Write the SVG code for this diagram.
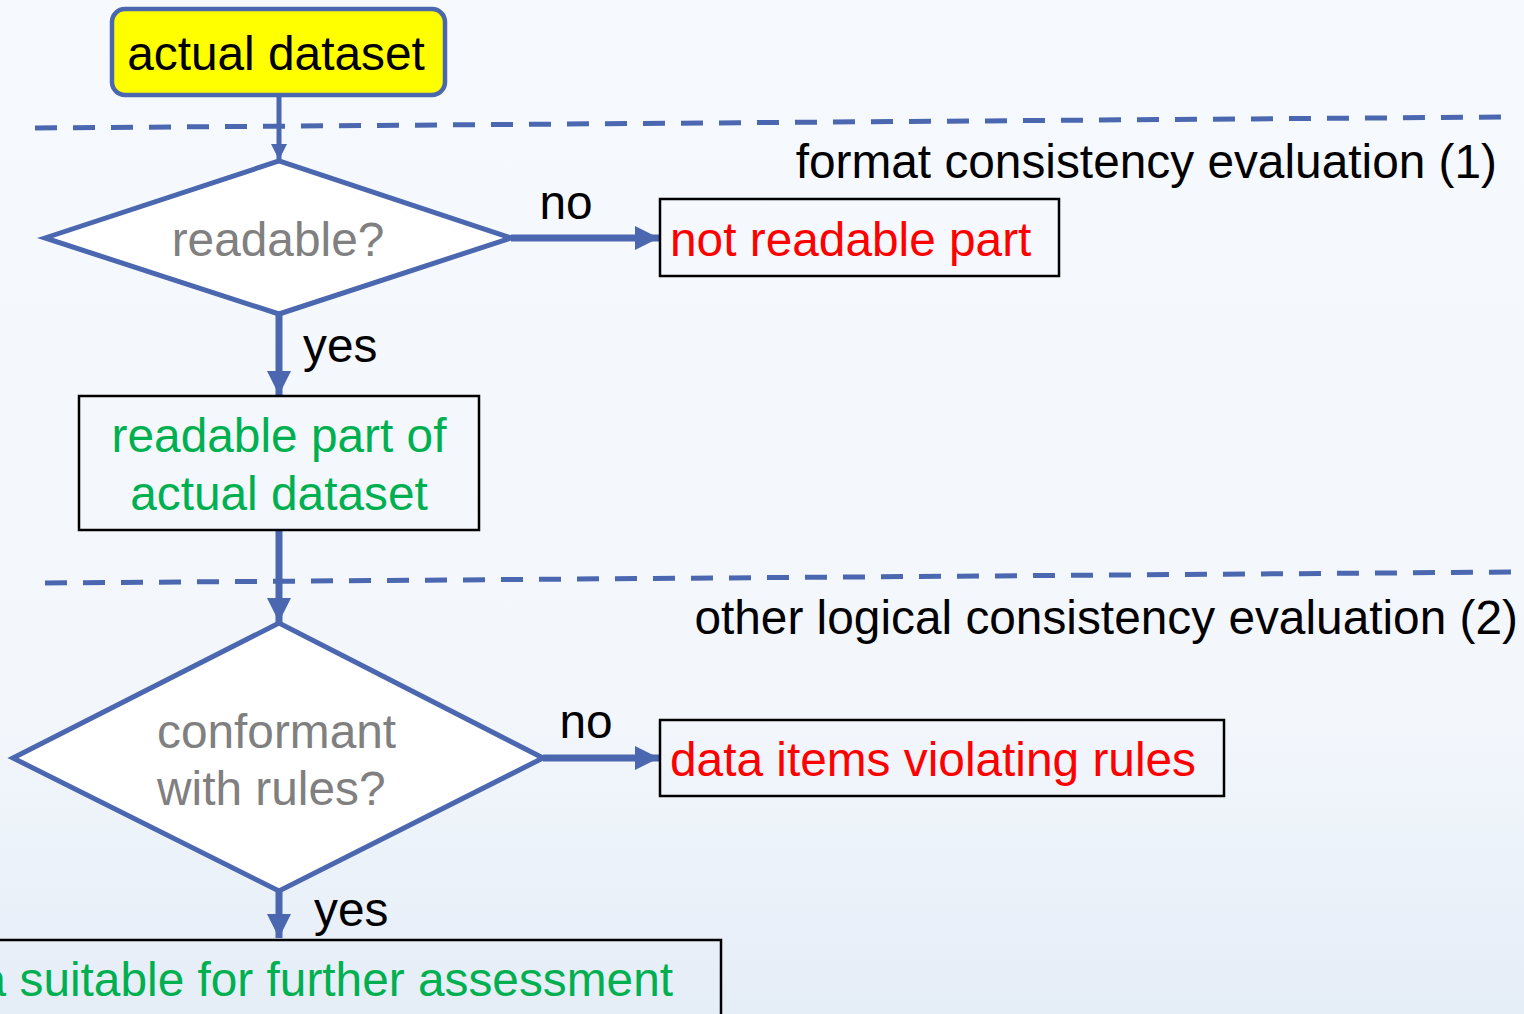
<svg xmlns="http://www.w3.org/2000/svg" width="1524" height="1014" viewBox="0 0 1524 1014">
<defs>
<linearGradient id="bg" x1="0" y1="0" x2="0" y2="1">
<stop offset="0" stop-color="#F6FAFE"/>
<stop offset="0.7" stop-color="#F3F7FC"/>
<stop offset="1" stop-color="#E5EDF7"/>
</linearGradient>
<marker id="ah" markerUnits="userSpaceOnUse" markerWidth="24" markerHeight="24" viewBox="0 0 24 24" refX="24" refY="12" orient="auto">
<path d="M0,0 L24,12 L0,24 Z" fill="#4A67B0"/>
</marker>
<marker id="ahs" markerUnits="userSpaceOnUse" markerWidth="16" markerHeight="16" viewBox="0 0 16 16" refX="16" refY="8" orient="auto">
<path d="M0,0 L16,8 L0,16 Z" fill="#4A67B0"/>
</marker>
</defs>
<style>
text{font-family:"Liberation Sans",Arial,sans-serif;font-size:47.8px}
.dash{stroke:#4A67B0;stroke-width:5;stroke-dasharray:22 16;fill:none}
.con{stroke:#4A67B0;stroke-width:7;fill:none}
.dia{fill:#FFFFFF;stroke:#4A67B0;stroke-width:5;stroke-linejoin:miter}
.box{fill:none;stroke:#000000;stroke-width:2.5}
.red{fill:#FF0000}
.green{fill:#00B050}
.gray{fill:#808080}
.blk{fill:#000000}
</style>
<rect x="0" y="0" width="1524" height="1014" fill="url(#bg)"/>
<g id="separators">
<line class="dash" x1="35" y1="128" x2="1505" y2="117"/>
<line class="dash" x1="45" y1="583" x2="1518" y2="572"/>
<text class="blk" x="1497" y="178" text-anchor="end">format consistency evaluation (1)</text>
<text class="blk" x="1518" y="634" text-anchor="end">other logical consistency evaluation (2)</text>
</g>
<g id="connectors">
<line x1="279" y1="95" x2="279" y2="160" stroke="#4A67B0" stroke-width="5" marker-end="url(#ahs)"/>
<line class="con" x1="511" y1="238" x2="659" y2="238" marker-end="url(#ah)"/>
<line class="con" x1="279" y1="314" x2="279" y2="395" marker-end="url(#ah)"/>
<line class="con" x1="279" y1="530" x2="279" y2="622" marker-end="url(#ah)"/>
<line class="con" x1="543" y1="758" x2="659" y2="758" marker-end="url(#ah)"/>
<line class="con" x1="279" y1="891" x2="279" y2="938" marker-end="url(#ah)"/>
<text class="blk" x="566" y="219" text-anchor="middle">no</text>
<text class="blk" x="303" y="362">yes</text>
<text class="blk" x="586" y="738" text-anchor="middle">no</text>
<text class="blk" x="314" y="926">yes</text>
</g>
<g id="actual-dataset">
<rect x="112" y="9" width="333" height="86" rx="13" fill="#FFFF00" stroke="#4A67B0" stroke-width="4.5"/>
<text class="blk" x="276" y="70" text-anchor="middle">actual dataset</text>
</g>
<g id="readable">
<polygon class="dia" points="45,238 279,161 511,238 279,314"/>
<text class="gray" x="278" y="256" text-anchor="middle">readable?</text>
</g>
<g id="not-readable">
<rect class="box" x="660" y="199" width="399" height="77"/>
<text class="red" x="670" y="256">not readable part</text>
</g>
<g id="readable-part">
<rect class="box" x="79" y="396" width="400" height="134"/>
<text class="green" x="279" y="452" text-anchor="middle">readable part of</text>
<text class="green" x="279" y="510" text-anchor="middle">actual dataset</text>
</g>
<g id="conformant">
<polygon class="dia" points="13,758 279,623 543,758 279,891"/>
<text class="gray" x="157" y="748">conformant</text>
<text class="gray" x="157" y="805">with rules?</text>
</g>
<g id="violating">
<rect class="box" x="660" y="720" width="564" height="76"/>
<text class="red" x="670" y="776">data items violating rules</text>
</g>
<g id="suitable">
<rect class="box" x="-10" y="940" width="731" height="90"/>
<text class="green" x="673" y="996" text-anchor="end">data suitable for further assessment</text>
</g>
</svg>
